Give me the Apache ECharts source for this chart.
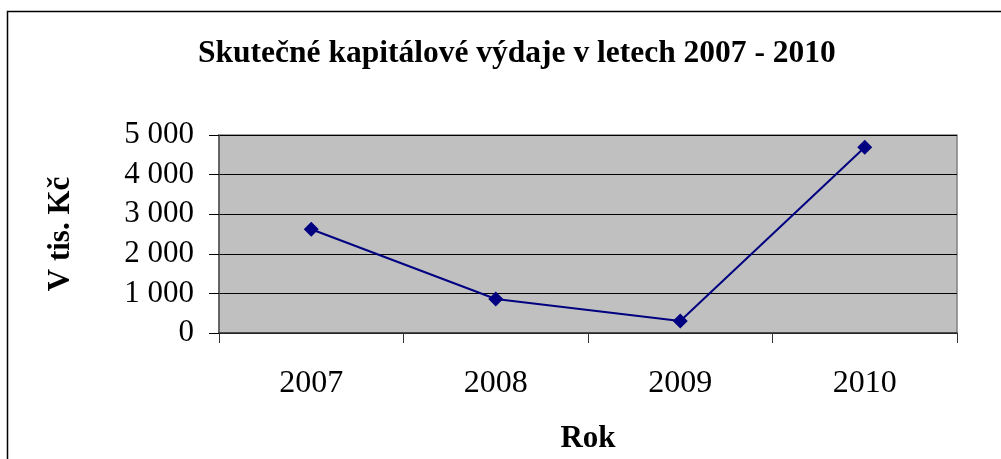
<!DOCTYPE html>
<html>
<head>
<meta charset="utf-8">
<script src="https://cdn.jsdelivr.net/npm/echarts@6/dist/echarts.min.js"></script>
<style>
  html, body { margin: 0; padding: 0; background: #fff; }
  #chart { width: 1001px; height: 459px; }
</style>
</head>
<body>
<div id="chart"></div>
<script>
// roky a výdaje (v tis. Kč)
var years = ['2007', '2008', '2009', '2010'];
var vydaje = [2620, 860, 305, 4690];
var yTicks = [0, 1000, 2000, 3000, 4000, 5000];

var serif = '"Liberation Serif", "Times New Roman", serif';

var chart = echarts.init(document.getElementById('chart'));
var option = {
  animation: false,
  backgroundColor: '#fff',
  textStyle: { fontFamily: serif },
  title: {
    text: 'Skutečné kapitálové výdaje v letech 2007 - 2010',
    left: 193,
    top: 33,
    textStyle: { fontFamily: serif, fontSize: 31.5, fontWeight: 'bold', color: '#000' }
  },
  graphic: [
    {
      type: 'rect',
      shape: { x: 7.5, y: 11.5, width: 1010, height: 470 },
      style: { fill: 'none', stroke: '#000', lineWidth: 1.5 },
      silent: true
    }
  ],
  grid: {
    left: 219,
    top: 135,
    right: 44,
    bottom: 126,
    show: true,
    backgroundColor: '#c0c0c0',
    borderColor: '#808080',
    borderWidth: 1.5
  },
  xAxis: {
    type: 'category',
    data: years,
    boundaryGap: true,
    name: 'Rok',
    nameLocation: 'middle',
    nameGap: 90,
    nameTextStyle: { fontFamily: serif, fontSize: 31, fontWeight: 'bold', color: '#000' },
    axisLine: { lineStyle: { color: '#333', width: 1.5 } },
    axisTick: { show: true, length: 10, lineStyle: { color: '#333' } },
    axisLabel: { fontFamily: serif, fontSize: 32, color: '#000', margin: 35 }
  },
  yAxis: {
    type: 'value',
    min: yTicks[0],
    max: yTicks[yTicks.length - 1],
    interval: 1000,
    name: 'V tis. Kč',
    nameLocation: 'middle',
    nameGap: 143,
    nameRotate: 90,
    nameTextStyle: { fontFamily: serif, fontSize: 31, fontWeight: 'bold', color: '#000' },
    axisLine: { show: true, lineStyle: { color: '#555', width: 1.5 } },
    axisTick: { show: true, length: 10, lineStyle: { color: '#000' } },
    axisLabel: {
      fontFamily: serif, fontSize: 31, color: '#000', margin: 25,
      formatter: function (v) {
        return String(v).replace(/\B(?=(\d{3})+(?!\d))/g, ' ');
      }
    },
    splitLine: { show: true, lineStyle: { color: '#000', width: 1 } }
  },
  series: [
    {
      name: 'Výdaje',
      type: 'line',
      data: vydaje,
      symbol: 'diamond',
      symbolSize: 15,
      lineStyle: { color: '#000080', width: 2 },
      itemStyle: { color: '#000080' }
    }
  ]
};
chart.setOption(option);
</script>
</body>
</html>
